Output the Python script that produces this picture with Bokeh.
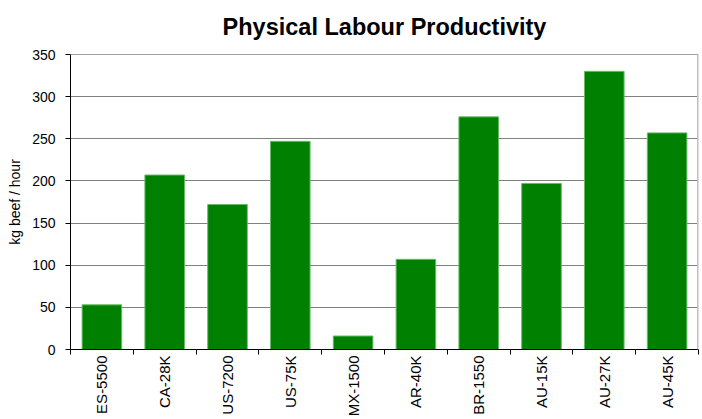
import numpy as np
from bokeh.plotting import figure
from bokeh.models import ColumnDataSource, FixedTicker, Range1d, Span
from bokeh.embed import file_html
from bokeh.resources import INLINE

# Labour productivity per farm type (kg beef per working hour)
farms = ["ES-5500", "CA-28K", "US-7200", "US-75K", "MX-1500",
         "AR-40K", "BR-1550", "AU-15K", "AU-27K", "AU-45K"]
kg_per_hour = [53, 207, 172, 247, 16, 107, 276, 197, 330, 257]
y_ticks = [0, 50, 100, 150, 200, 250, 300, 350]

FONT = "Liberation Sans"
n = len(farms)
centers = list(np.arange(n) + 0.5)

src = ColumnDataSource(dict(x=centers, top=kg_per_hour, farm=farms))

p = figure(width=702, height=419, output_backend="svg", toolbar_location=None,
           x_range=Range1d(0, n), y_range=Range1d(0, 350),
           min_border_left=70, min_border_right=4, min_border_top=54,
           min_border_bottom=68, title="Physical Labour Productivity")

p.vbar(x="x", top="top", width=0.63, source=src,
       fill_color="#008000", line_color="#66bb66", line_width=1)

# title
p.title.align = "center"
p.title.vertical_align = "top"
p.title.text_font = FONT
p.title.text_font_size = "23.5px"
p.title.text_font_style = "bold"
p.title.text_color = "#000000"
p.title.standoff = 25

# x axis: labels at bar centres, tick marks between categories
xa = p.xaxis[0]
xa.ticker = FixedTicker(ticks=centers, minor_ticks=list(range(n + 1)))
xa.major_label_overrides = {float(c): f for c, f in zip(centers, farms)}
xa.major_label_orientation = np.pi / 2
xa.major_tick_out = 0
xa.major_tick_in = 0
xa.minor_tick_out = 5
xa.minor_tick_in = 0
xa.minor_tick_line_color = "#000000"
xa.major_label_standoff = 1
xa.major_label_text_font = FONT
xa.major_label_text_font_size = "15px"
xa.major_label_text_color = "#000000"
xa.axis_line_color = "#000000"

# y axis
ya = p.yaxis[0]
ya.ticker = FixedTicker(ticks=y_ticks)
ya.minor_tick_line_color = None
ya.major_tick_out = 5
ya.major_tick_in = 0
ya.major_tick_line_color = "#000000"
ya.axis_line_color = "#000000"
ya.major_label_standoff = 10
ya.major_label_text_font = FONT
ya.major_label_text_font_size = "14px"
ya.major_label_text_color = "#000000"
ya.axis_label = "kg beef / hour"
ya.axis_label_text_font = FONT
ya.axis_label_text_font_size = "14px"
ya.axis_label_text_font_style = "normal"
ya.axis_label_text_color = "#000000"
ya.axis_label_standoff = 6

p.xgrid.grid_line_color = None
p.ygrid.grid_line_color = "#808080"
p.ygrid.grid_line_width = 1
p.outline_line_color = None

# plot-area border: dark top edge, light right edge
p.add_layout(Span(location=350, dimension="width", line_color="#404040", line_width=1))
p.add_layout(Span(location=n, dimension="height", line_color="#c0c0c0", line_width=3))

open("out.html", "w").write(file_html(p, INLINE))
